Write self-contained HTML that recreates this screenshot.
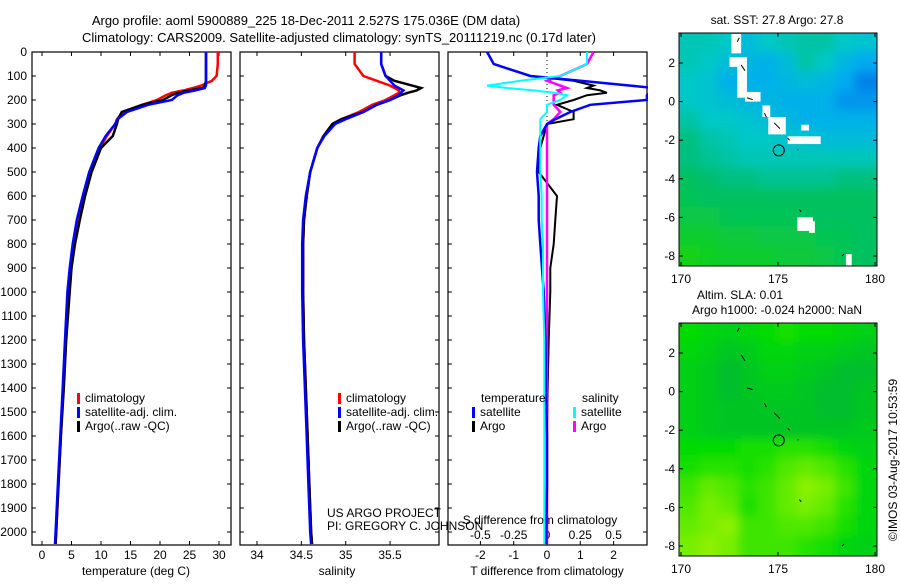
<!DOCTYPE html>
<html><head><meta charset="utf-8"><style>
body{margin:0;background:#fff}
svg text{font-family:"Liberation Sans",sans-serif;font-size:12px;fill:#000}
</style></head><body>
<svg id="c" width="900" height="580" xmlns="http://www.w3.org/2000/svg">
<defs><filter id="bl" x="0" y="0" width="1" height="1"><feGaussianBlur stdDeviation="5"/></filter>
<clipPath id="cm1"><rect x="679" y="33" width="198" height="233"/></clipPath>
<clipPath id="cm2"><rect x="679" y="323" width="198" height="233"/></clipPath>
<clipPath id="cp3"><rect x="448" y="52" width="200" height="493"/></clipPath></defs>
<text x="306" y="25" text-anchor="middle" style="font-size:13px">Argo profile: aoml 5900889_225 18-Dec-2011 2.527S 175.036E (DM data)</text>
<text x="339" y="42" text-anchor="middle" style="font-size:13px">Climatology: CARS2009. Satellite-adjusted climatology: synTS_20111219.nc (0.17d later)</text>
<g id="g"></g>
</svg>
<script>
const depths=[0,50,100,120,140,150,160,170,180,200,220,250,280,300,350,400,500,600,700,800,900,1000,1200,1400,1600,1800,2000,2050];
const tClim=[29.8,29.8,29.6,28.8,27,25.6,24,22,21,19.5,17,13.7,12.7,12.4,11,9.8,8.2,7.0,6.0,5.3,4.8,4.5,4.0,3.6,3.2,2.8,2.4,2.3];
const tSat=[27.8,27.8,27.8,27.8,27.8,27.6,26,24,23,22,18,14.4,12.8,12.4,10.8,9.6,8.0,6.9,5.9,5.2,4.7,4.3,3.9,3.5,3.1,2.7,2.3,2.2];
const tArgo=[27.8,27.8,27.8,27.8,27.6,27.3,25,23,22,20.5,17,13.5,12.9,12.7,12,10,8.4,7.3,6.4,5.6,5.0,4.7,4.1,3.7,3.2,2.8,2.4,2.3];
const sClim=[35.1,35.1,35.2,35.35,35.5,35.55,35.6,35.6,35.55,35.45,35.3,35.15,34.95,34.85,34.75,34.68,34.6,34.56,34.53,34.52,34.52,34.52,34.53,34.55,34.57,34.59,34.61,34.62];
const sSat=[35.4,35.4,35.45,35.5,35.55,35.6,35.65,35.62,35.6,35.5,35.35,35.2,35.0,34.88,34.76,34.68,34.6,34.55,34.52,34.51,34.51,34.51,34.52,34.54,34.56,34.58,34.6,34.61];
const sArgo=[35.4,35.4,35.45,35.55,35.75,35.85,35.8,35.7,35.62,35.5,35.35,35.2,34.95,34.85,34.75,34.68,34.6,34.56,34.53,34.52,34.52,34.52,34.53,34.55,34.57,34.59,34.61,34.62];
const dTSat=[-1.8,-1.6,-0.5,1.0,2.5,3.2,3.3,3.1,3.0,3.0,1.3,0.7,0.25,0,-0.2,-0.25,-0.3,-0.25,-0.25,-0.2,-0.15,-0.1,-0.05,-0.03,0,0,-0.02,-0.02];
const dTArgo=[-1.8,-1.6,-0.5,0.8,1.4,1.2,1.6,1.8,1.2,0.8,0.3,0.8,0.8,0,-0.1,-0.2,-0.25,0.3,0.25,0.2,0.1,0.1,0.05,0.02,0,0,0,0];
const dSSat=[0.3,0.3,0.1,-0.2,-0.45,-0.3,-0.1,0.05,0.15,0.1,0.0,0.0,-0.05,-0.05,-0.05,-0.05,-0.05,-0.04,-0.04,-0.03,-0.03,-0.03,-0.02,-0.02,-0.02,-0.02,-0.02,-0.02];
const dSArgo=[0.35,0.3,0.1,0,0.1,0.15,0.08,0.1,0.05,0.05,0.05,0.1,0.05,0,0,0,0,0,0,0,0,0,0,0,0,0,0,0];
const depthTicks=[0,100,200,300,400,500,600,700,800,900,1000,1100,1200,1300,1400,1500,1600,1700,1800,1900,2000];
const tTicks=[0,5,10,15,20,25,30];
const sTicks=[34,34.5,35,35.5];
const dTTicks=[-2,-1,0,1,2];
const dSTicks=[-0.5,-0.25,0,0.25,0.5];
const latTicks=[2,0,-2,-4,-6,-8];
const lonTicks=[170,175,180];
const sstGrid=[
[.55,.55,.6,.7,.6,.55,.5,.5,.6,.65],[.55,.6,.7,.75,.8,.7,.5,.6,.75,.85],[.6,.65,.8,.8,.8,.75,.7,.75,.85,.95],
[.6,.65,.7,.75,.75,.8,.8,.8,.9,.9],[.5,.6,.6,.65,.7,.75,.8,.8,.8,.8],[.4,.5,.55,.6,.6,.65,.65,.7,.7,.7],
[.4,.45,.5,.55,.55,.55,.55,.55,.55,.55],[.3,.35,.4,.4,.45,.45,.45,.45,.4,.4],[.25,.3,.3,.3,.3,.3,.3,.3,.3,.3],
[.2,.2,.25,.25,.25,.25,.3,.3,.3,.3],[.1,.1,.15,.15,.2,.2,.2,.25,.25,.3],[0,.05,.1,.1,.1,.15,.15,.2,.25,.3]];
const slaGrid=[
[.5,.45,.4,.45,.5,.55,.5,.5,.45,.4],[.45,.4,.3,.35,.45,.45,.4,.4,.35,.3],[.4,.35,.25,.3,.4,.4,.35,.3,.25,.25],
[.4,.35,.25,.3,.35,.35,.3,.25,.25,.3],[.4,.35,.3,.3,.3,.3,.3,.25,.25,.3],[.4,.35,.3,.3,.3,.3,.3,.3,.3,.35],
[.5,.5,.5,.55,.55,.6,.6,.55,.45,.4],[.55,.6,.6,.55,.6,.7,.75,.7,.6,.45],[.65,.75,.7,.6,.65,.75,.85,.8,.65,.45],
[.7,.8,.75,.55,.65,.75,.8,.75,.6,.45],[.75,.8,.85,.65,.65,.7,.7,.65,.55,.45],[.8,.85,.8,.65,.65,.65,.6,.55,.45,.4]];

const NS='http://www.w3.org/2000/svg';const G=document.getElementById('g');
function mk(t,a,p){const e=document.createElementNS(NS,t);for(const k in a)e.setAttribute(k,a[k]);(p||G).appendChild(e);return e;}
function tx(x,y,s,anchor,p){const e=mk('text',{x:x,y:y,'text-anchor':anchor||'middle'},p);e.textContent=s;return e;}
const yD=d=>52+d*0.24;
const xT=v=>42+v*5.9, xS=v=>257+(v-34)*88.7, xDT=v=>547+v*33.3, xDS=v=>547+v*133.2;
const panels=[[32,'temperature-panel'],[240,'salinity-panel'],[448,'difference-panel']];
panels.forEach(([x0,nm],i)=>{
  const r=mk('rect',{x:x0,y:52,width:199,height:493,fill:'none',stroke:'#000','stroke-width':1.2});
  
  depthTicks.forEach(d=>{const y=yD(d);mk('line',{x1:x0,x2:x0+4,y1:y,y2:y,stroke:'#000'});mk('line',{x1:x0+199,x2:x0+195,y1:y,y2:y,stroke:'#000'});
    if(i==0){const t=tx(27,y+4,String(d),'end');}});
});
function xticks(arr,f,fmt,yl){arr.forEach(v=>{const x=f(v);mk('line',{x1:x,x2:x,y1:545,y2:541,stroke:'#000'});mk('line',{x1:x,x2:x,y1:52,y2:56,stroke:'#000'});
  if(fmt!==null){const t=tx(x,yl,fmt(v));}});}
xticks(tTicks,xT,String,559);xticks(sTicks,xS,String,559);xticks(dTTicks,xDT,String,559);
dSTicks.forEach(v=>{const t=tx(xDS(v),539,String(v));});
[[136,'temperature (deg C)'],[337,'salinity'],[547,'T difference from climatology']].forEach(([x,s])=>{const t=tx(x,575,s);});
let t=tx(540,524,'S difference from climatology');
mk('line',{x1:547,x2:547,y1:52,y2:545,stroke:'#000','stroke-dasharray':'1,3'});
function line(vals,f,col,w,nm,clip){const pts=vals.map((v,i)=>f(v).toFixed(1)+','+yD(depths[i]).toFixed(1)).join(' ');
  const p=mk('polyline',{points:pts,fill:'none',stroke:col,'stroke-width':w});if(clip)p.setAttribute('clip-path','url(#cp3)');
  }
line(tClim,xT,'#f00',2.5,'temp-climatology-line');line(tArgo,xT,'#000',2.5,'temp-argo-line');line(tSat,xT,'#00f',2.5,'temp-satellite-line');
line(sClim,xS,'#f00',2.5,'sal-climatology-line');line(sArgo,xS,'#000',2.5,'sal-argo-line');line(sSat,xS,'#00f',2.5,'sal-satellite-line');
line(dTArgo,xDT,'#000',2,'tdiff-argo-line',1);line(dSArgo,xDS,'#f0f',2.5,'sdiff-argo-line',1);line(dTSat,xDT,'#00f',2.5,'tdiff-satellite-line',1);line(dSSat,xDS,'#0ff',2,'sdiff-satellite-line',1);
function leg(x,y,col,s){mk('rect',{x:x,y:y-9,width:3,height:11,fill:col});const e=tx(x+8,y,s,'start');}
[[77],[338]].forEach(([x])=>{leg(x,402,'#f00','climatology');leg(x,416,'#00f','satellite-adj. clim.');leg(x,430,'#000','Argo(..raw -QC)');});
tx(481,402,'temperature','start');tx(582,402,'salinity','start');
leg(472,416,'#00f','satellite');leg(472,430,'#000','Argo');leg(573,416,'#0ff','satellite');leg(573,430,'#f0f','Argo');
t=tx(327,517,'US ARGO PROJECT','start');
t=tx(327,530,'PI: GREGORY C. JOHNSON','start');
function ramp(stops,v){for(let i=1;i<stops.length;i++){if(v<=stops[i][0]){const a=stops[i-1],b=stops[i],f=(v-a[0])/(b[0]-a[0]);
  return 'rgb('+[1,2,3].map(k=>Math.round(a[k]+(b[k]-a[k])*f)).join(',')+')';}}const l=stops[stops.length-1];return 'rgb('+l[1]+','+l[2]+','+l[3]+')';}
const sstStops=[[0,20,210,20],[0.35,0,190,110],[0.6,0,200,200],[0.85,0,170,240],[1,0,110,230]];
const slaStops=[[0,0,160,90],[0.5,0,220,0],[1,200,250,0]];
function map(y0,grid,stops,nm,clip,title1,title2,white){
  const lx=v=>681+(v-170)*19.4, ly=v=>y0+30+(2-v)*19.3;
  const g=mk('g',{'clip-path':'url(#'+clip+')'});
  const gb=mk('g',{filter:'url(#bl)'},g);
  mk('rect',{x:650,y:y0-30,width:260,height:293,fill:ramp(stops,grid[6][5])},gb);
  const nr=grid.length,nc=grid[0].length;
  // pad edges by repeating border cells so blur doesn't fade
  for(let r=-2;r<nr+2;r++)for(let c=-2;c<nc+2;c++){const rr=Math.min(nr-1,Math.max(0,r)),cc=Math.min(nc-1,Math.max(0,c));
    const e=mk('rect',{x:lx(170+c)-1,y:ly(3.5-r)-1,width:21.4,height:21.3,fill:ramp(stops,grid[rr][cc])},gb);
    }
  if(white)[[172.6,3.5,0.5,1],[172.5,2.3,0.9,0.5],[172.9,1.8,0.5,1.6],[173.3,0.5,0.8,0.5],[174.2,-0.2,0.4,0.6],[174.5,-0.8,0.9,0.9],[175.5,-1.8,1.7,0.4],[176.2,-1.2,0.4,0.3],[176,-6,0.8,0.7],[176.6,-6.2,0.3,0.6],[178.5,-7.9,0.3,0.6]].forEach(([a,b,w,h])=>
    mk('rect',{x:lx(a),y:ly(b),width:w*19.4,height:h*19.3,fill:'#fff'},g));
  [[173,3.3,172.9,3.1],[173.1,1.9,173.3,1.6],[173.4,0.2,173.7,0.1],[174.3,-0.6,174.4,-0.8],[174.8,-1.1,175.1,-1.4],[175.5,-1.9,175.6,-2],[176,-2.5,176.05,-2.5],[176.1,-5.6,176.2,-5.7],[178.3,-8,178.4,-7.9]].forEach(([a,b,c,d])=>
    mk('line',{x1:lx(a),y1:ly(b),x2:lx(c),y2:ly(d),stroke:'#000','stroke-width':1},g));
  const ci=mk('circle',{cx:lx(175.04),cy:ly(-2.527),r:5.5,fill:'none',stroke:'#000'});
  const fr=mk('rect',{x:679,y:y0,width:198,height:233,fill:'none',stroke:'#000'});
  latTicks.forEach(v=>{const y=ly(v);mk('line',{x1:679,x2:683,y1:y,y2:y,stroke:'#000'});mk('line',{x1:877,x2:873,y1:y,y2:y,stroke:'#000'});tx(675,y+4,String(v),'end');});
  lonTicks.forEach(v=>{const x=lx(v);mk('line',{x1:x,x2:x,y1:y0+233,y2:y0+229,stroke:'#000'});mk('line',{x1:x,x2:x,y1:y0,y2:y0+4,stroke:'#000'});tx(x,y0+250,String(v));});
  tx(777,y0-9,title1);if(title2)tx(740,y0-24,title2);
}
map(33,sstGrid,sstStops,'sst-map','cm1','sat. SST: 27.8 Argo: 27.8',null,true);
map(323,slaGrid,slaStops,'sla-map','cm2','Argo h1000: -0.024 h2000: NaN','Altim. SLA: 0.01',false);
t=tx(0,0,'©IMOS 03-Aug-2017 10:53:59');t.setAttribute('transform','translate(897,460) rotate(-90)');
</script>
</body></html>
